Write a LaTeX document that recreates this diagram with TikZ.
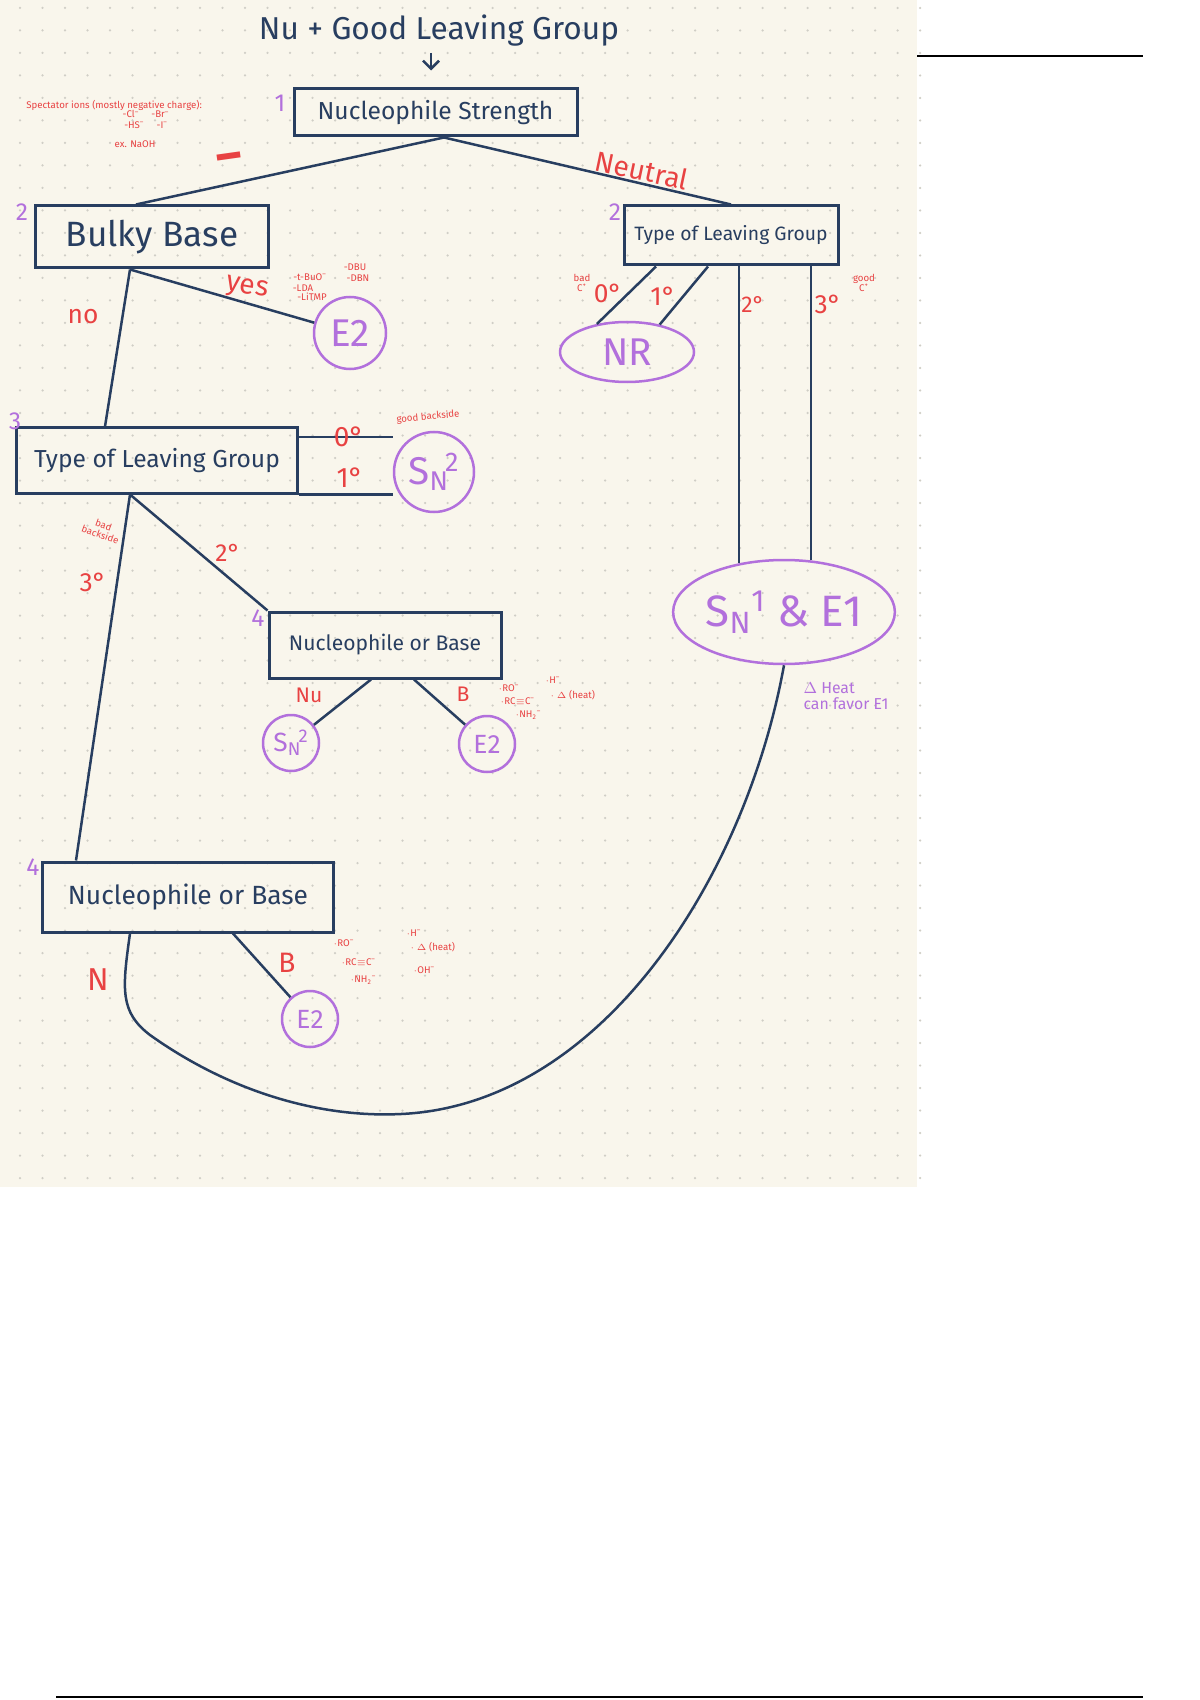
\documentclass[tikz,border=0pt]{standalone}
\usepackage{fontspec}
\setmainfont{Fira Sans}
\usetikzlibrary{shapes.geometric,arrows.meta,positioning,calc}
\definecolor{inkblue}{RGB}{40,62,96}
\definecolor{markred}{RGB}{232,66,66}
\definecolor{markpurple}{RGB}{178,112,220}
\definecolor{paper}{RGB}{249,246,236}
\definecolor{dotgray}{RGB}{208,206,198}
\newcommand{\fs}[1]{\fontsize{#1}{#1}\selectfont}
\newcommand{\SNtwo}{S\textsubscript{N}\kern-0.1em\textsuperscript{2}}
\newcommand{\SNone}{S\textsubscript{N}\textsuperscript{1}}
\tikzset{
    decision/.style={rectangle, draw=inkblue, line width=0.6mm, text=inkblue, inner sep=0pt},
    outcome/.style={circle, draw=markpurple, line width=0.5mm, text=markpurple, inner sep=0pt},
    outcomeE/.style={ellipse, draw=markpurple, line width=0.5mm, text=markpurple, inner sep=0pt},
    link/.style={line width=0.5mm, inkblue},
    condlabel/.style={text=markred, font=\fs{15}},
    stepnum/.style={text=markpurple, font=\fs{14}},
    annot/.style={text=markred, font=\fs{5.5}, align=center, inner sep=0pt},
}

\begin{document}
\begin{tikzpicture}[x=0.2mm, y=-0.2mm]
    \useasboundingbox (0,0) rectangle (1200,1700);

    % Paper and dots
    \fill[paper] (0,0) rectangle (917,1187);
    \foreach \i in {0,...,40} {
        \foreach \j in {0,...,52} {
            \fill[dotgray] (20+22.5*\i, 8+22.5*\j) circle (0.25mm);
        }
    }
    \draw[line width=0.25mm] (917,56) -- (1143,56);
    \draw[line width=0.25mm] (56,1697) -- (1143,1697);

    % Start
    \node[text=inkblue, font=\fs{18}] (title) at (439,31) {Nu + Good Leaving Group};
    \node[decision, minimum width=56.6mm, minimum height=9.4mm, font=\fs{14}] (strength) at (435.5,112.5) {Nucleophile Strength};
    \draw[link, -{Straight Barb[length=1.6mm]}, shorten >=3.4mm] ([xshift=-1.6mm]title.south) -- ([xshift=-1.6mm]title.south |- strength.north);
    \node[stepnum] (s1) at (280,103) {1};

    % Step 2
    \node[decision, minimum width=46.4mm, minimum height=12.4mm, font=\fs{20}] (bulky) at (152,237) {Bulky Base};
    \node[decision, minimum width=42.8mm, minimum height=11.8mm, font=\fs{11}] (lgR) at (731,235.5) {Type of Leaving Group};
    \node[stepnum] (s2a) at (22,212) {2};
    \node[stepnum] (s2b) at (615,212) {2};
    \draw[link] ([xshift=1.7mm]strength.south) -- ([xshift=-3.2mm]bulky.north);
    \draw[link] ([xshift=1.7mm]strength.south) -- (lgR.north);
    \node[text=markred, font=\fs{28}\bfseries, rotate=8] (minus) at (230,163) {--};
    \node[condlabel, font=\fs{16}, rotate=-12] (neutral) at (642,170) {Neutral};

    % Bulky base
    \node[outcome, minimum size=14.4mm, font=\fs{22}] (e2a) at (350,333) {E2};
    \draw[link] ([xshift=-4.4mm]bulky.south) -- (e2a);
    \node[condlabel, font=\fs{16}, rotate=-10] (yes) at (247,289) {yes};
    \node[condlabel] (no) at (83,317) {no};
    \node[annot] (bb1) at (310,277) {-t-BuO\textsuperscript{--}};
    \node[annot] (bb2) at (303,288) {-LDA};
    \node[annot] (bb3) at (312,297) {-LiTMP};
    \node[annot] (bb4) at (355,267) {-DBU};
    \node[annot] (bb5) at (358,278) {-DBN};

    % Spectator ions
    \node[annot, anchor=west] (spec) at (26,105) {Spectator ions (mostly negative charge):};
    \node[annot] (spec2) at (146,114) {-Cl\textsuperscript{--} \quad -Br\textsuperscript{--}};
    \node[annot] (spec3) at (146,125) {-HS\textsuperscript{--} \quad -I\textsuperscript{--}};
    \node[annot] (spec4) at (135,144) {ex. NaOH};

    % Step 3
    \node[decision, minimum width=56mm, minimum height=13mm, font=\fs{14}] (lg3) at (157,460.5) {Type of Leaving Group};
    \node[stepnum] (s3) at (15,421) {3};
    \draw[link] ([xshift=-4.4mm]bulky.south) -- ([xshift=-10.4mm]lg3.north);
    \node[outcome, minimum size=16mm, font=\fs{22}] (sn2a) at (434,472) {\SNtwo};
    \draw[link] ([yshift=-2.1mm]lg3.north east) -- ([yshift=-2.1mm]lg3.north east -| sn2a.west);
    \draw[link] (lg3.south east) -- (lg3.south east -| sn2a.west);
    \node[condlabel, font=\fs{16}] (deg0a) at (349,437) {0°};
    \node[condlabel, font=\fs{16}] (deg1a) at (350,478) {1°};
    \node[annot, rotate=5] (goodbs) at (428,417) {good backside};
    \node[annot, rotate=-20] (badbs) at (102,530) {bad\\backside};

    % Step 4, 2 degree
    \node[decision, minimum width=46.4mm, minimum height=13.2mm, font=\fs{12}] (nob1) at (385,645) {Nucleophile or Base};
    \node[stepnum] (s4a) at (258,618) {4};
    \draw[link] ([xshift=-5.4mm]lg3.south) -- (nob1.north west);
    \node[condlabel, font=\fs{14}] (deg2a) at (228,553) {2°};
    \node[outcome, minimum size=11.2mm, font=\fs{15}] (sn2b) at (291,743) {\SNtwo};
    \node[outcome, minimum size=11.2mm, font=\fs{15}] (e2b) at (487,744) {E2};
    \draw[link] ([xshift=-2.8mm]nob1.south) -- (sn2b);
    \draw[link] ([xshift=5.8mm]nob1.south) -- (e2b);
    \node[condlabel, font=\fs{12}] (nu1) at (309,695) {Nu};
    \node[condlabel, font=\fs{12}] (b1) at (463,694) {B};
    \node[annot, anchor=west] (nb1) at (498,688) {$\cdot$RO\textsuperscript{--}};
    \node[annot, anchor=west] (nb2) at (500,701) {$\cdot$RC$\equiv$C\textsuperscript{--}};
    \node[annot, anchor=west] (nb3) at (515,715) {$\cdot$NH\textsubscript{2}\textsuperscript{--}};
    \node[annot, anchor=west] (nb4) at (545,680) {$\cdot$H\textsuperscript{--}};
    \node[annot, anchor=west] (nb5) at (550,695) {$\cdot$ $\Delta$ (heat)};

    % Step 4, 3 degree
    \node[decision, minimum width=58mm, minimum height=14mm, font=\fs{15}] (nob2) at (188,897) {Nucleophile or Base};
    \node[stepnum] (s4b) at (33,867) {4};
    \draw[link] ([xshift=-5.4mm]lg3.south) -- ([xshift=-22.4mm]nob2.north);
    \node[condlabel] (deg3a) at (93,582) {3°};
    \node[outcome, minimum size=11.2mm, font=\fs{15}] (e2c) at (310,1019) {E2};
    \draw[link] ([xshift=9mm]nob2.south) -- (e2c);
    \node[condlabel, font=\fs{16}] (b2) at (287,963) {B};
    \node[condlabel, font=\fs{18}] (n2) at (98,980) {N};
    \node[annot, anchor=west] (nc1) at (333,943) {$\cdot$RO\textsuperscript{--}};
    \node[annot, anchor=west] (nc2) at (341,962) {$\cdot$RC$\equiv$C\textsuperscript{--}};
    \node[annot, anchor=west] (nc3) at (350,980) {$\cdot$NH\textsubscript{2}\textsuperscript{--}};
    \node[annot, anchor=west] (nc4) at (406,933) {$\cdot$H\textsuperscript{--}};
    \node[annot, anchor=west] (nc5) at (410,947) {$\cdot$ $\Delta$ (heat)};
    \node[annot, anchor=west] (nc6) at (413,970) {$\cdot$OH\textsuperscript{--}};

    % Neutral side
    \node[outcomeE, minimum width=26.8mm, minimum height=12mm, font=\fs{22}] (nr) at (627,352) {NR};
    \draw[link] ([xshift=-15mm]lgR.south) -- (nr.137);
    \draw[link] ([xshift=-4.6mm]lgR.south) -- (nr.40);
    \node[condlabel] (deg0b) at (608,293) {0°};
    \node[condlabel] (deg1b) at (663,296) {1°};
    \node[condlabel, font=\fs{13}] (deg2b) at (753,304) {2°};
    \node[condlabel] (deg3b) at (828,304) {3°};
    \node[annot] (badc) at (582,283) {bad\\C\textsuperscript{+}};
    \node[annot] (goodc) at (864,283) {good\\C\textsuperscript{+}};
    \node[outcomeE, minimum width=44mm, minimum height=20.8mm, font=\fs{25}] (sn1) at (784,612) {\SNone\ \& E1};
    \draw[link] ([xshift=1.6mm]lgR.south) -- ([xshift=1.6mm, yshift=-0.9mm]lgR.south |- sn1.north);
    \draw[link] ([xshift=16mm]lgR.south) -- ([xshift=16mm, yshift=-0.3mm]lgR.south |- sn1.north);
    \node[text=markpurple, font=\fs{9}, align=left] (heat) at (846,696) {$\Delta$ Heat\\can favor E1};

    % Nucleophile back to SN1
    \draw[link] ([xshift=-11.6mm]nob2.south) .. controls (122,990) and (120,1012) .. (150,1035)
        .. controls (230,1092) and (320,1118) .. (401,1114)
        .. controls (600,1105) and (745,880) .. (sn1.south);
\end{tikzpicture}
\end{document}
